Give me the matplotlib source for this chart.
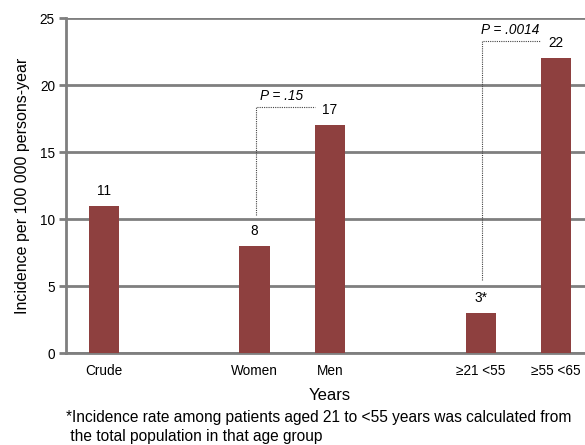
import matplotlib
matplotlib.use("Agg")
import matplotlib.pyplot as plt

categories = ["Crude", "Women", "Men", "\u226521 <55", "\u226555 <65"]
positions = [0, 2, 3, 5, 6]
values = [11, 8, 17, 3, 22]
value_labels = ["11", "8", "17", "3*", "22"]
yticks = [0, 5, 10, 15, 20, 25]

plt.rcParams['font.family'] = ['Liberation Sans', 'DejaVu Sans']

fig = plt.figure(figsize=(5.85, 4.45), dpi=100)
ax = fig.add_axes([0.1128, 0.2067, 0.9026, 0.7528])

gc = '#7f7f7f'
fs = 9.8
ax.set_ylim(0, 25)
ax.set_xlim(-0.5, 6.5)
ax.set_yticks(yticks)
ax.yaxis.grid(True, color=gc, linewidth=2)
ax.set_axisbelow(True)
for s in ['top', 'right']:
    ax.spines[s].set_visible(False)
for s in ['left', 'bottom']:
    ax.spines[s].set_color(gc)
    ax.spines[s].set_linewidth(2)

ax.bar(positions, values, width=0.4, color='#8e403f', zorder=3)
for p, v, lab in zip(positions, values, value_labels):
    ax.text(p, v + 0.6, lab, ha='center', va='bottom', fontsize=fs)

ax.set_xticks(positions)
ax.set_xticklabels(categories, fontsize=fs)
ax.tick_params(axis='x', length=0, pad=8)
ax.tick_params(axis='y', length=5, width=2, color=gc, labelsize=fs, pad=3)

# P-value annotations
ax.plot([2.02, 2.02, 2.8], [10.3, 18.35, 18.35], linestyle=(0, (1, 1)), color='#444444', linewidth=0.8, zorder=4)
ax.text(2.07, 18.65, "P = .15", fontstyle='italic', fontsize=fs, ha='left', va='bottom')
ax.plot([5.02, 5.02, 5.78], [5.45, 23.3, 23.3], linestyle=(0, (1, 1)), color='#444444', linewidth=0.8, zorder=4)
ax.text(5.0, 23.6, "P = .0014", fontstyle='italic', fontsize=fs, ha='left', va='bottom')

ax.set_ylabel("Incidence per 100 000 persons-year", fontsize=11.5, labelpad=7)
fig.text(0.564, 0.112, "Years", fontsize=12, ha='center', va='center')
fig.text(0.113, 0.061, "*Incidence rate among patients aged 21 to <55 years was calculated from", fontsize=11.2, ha='left', va='center')
fig.text(0.113, 0.018, " the total population in that age group", fontsize=11.2, ha='left', va='center')

fig.savefig("out.png", dpi=100)
